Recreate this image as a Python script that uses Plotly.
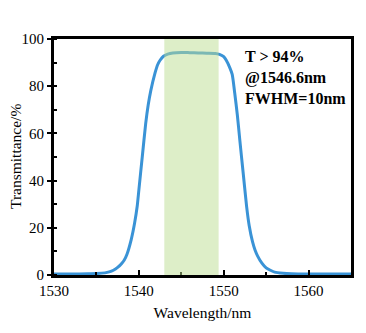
import plotly.graph_objects as go

wavelength = [1530, 1532, 1534, 1535, 1536, 1536.5, 1537, 1537.5, 1538, 1538.3, 1538.6,
              1539.1, 1539.5, 1539.8, 1540.0, 1540.4, 1540.8, 1541.1, 1541.4, 1541.9,
              1542.2, 1542.5, 1542.9, 1543.4, 1544, 1545, 1546, 1547, 1548, 1549,
              1549.5, 1550, 1550.3, 1550.7, 1551, 1551.3, 1551.6, 1551.9, 1552.3,
              1552.7, 1553.0, 1553.4, 1553.7, 1554.0, 1554.5, 1555, 1555.5, 1556,
              1557, 1558, 1560, 1562, 1565]
transmittance = [0.4, 0.4, 0.5, 0.6, 0.9, 1.3, 2.0, 3.2, 5.0, 6.5, 8.8,
                 15, 22, 29, 36, 50, 64, 72, 78, 85.5,
                 89, 91, 92.7, 93.6, 94.1, 94.3, 94.2, 94.1, 94.0, 93.9,
                 93.5, 92.5, 91, 88, 85, 77, 68, 57, 43,
                 29, 21, 14, 10.5, 8, 5, 3, 2, 1.2,
                 0.7, 0.5, 0.4, 0.4, 0.4]
band = [1543.0, 1549.4]
notes = ["T > 94%", "@1546.6nm", "FWHM=10nm"]
y_title = "Transmittance/%"
x_title = "Wavelength/nm"

font = "Liberation Serif"

fig = go.Figure()
fig.add_trace(go.Scatter(x=wavelength, y=transmittance, mode="lines",
                         line=dict(color="#3a93d6", width=3, shape="spline", smoothing=0.6),
                         showlegend=False))

fig.add_shape(type="rect", xref="x", yref="y", x0=band[0], x1=band[1], y0=0, y1=100,
              fillcolor="rgb(187,221,145)", opacity=0.5, line=dict(width=0), layer="above")

fig.add_annotation(x=0.635, y=0.97, xref="paper", yref="paper", xanchor="left", yanchor="top",
                   text="<br>".join("<b>%s</b>" % t for t in notes), showarrow=False, align="left",
                   font=dict(family=font, size=16, color="black"))

# y-axis title as rotated text centred on the plot height
fig.add_annotation(x=0, y=0.5, xref="paper", yref="paper", xshift=-39, showarrow=False,
                   text=y_title, textangle=-90, xanchor="center", yanchor="middle",
                   font=dict(family=font, size=15.5, color="black"))

fig.update_layout(
    width=366, height=333,
    margin=dict(l=54, r=15, t=39, b=58, autoexpand=False),
    paper_bgcolor="white", plot_bgcolor="white",
    font=dict(family=font, size=15, color="black"),
    xaxis=dict(range=[1530, 1565], dtick=10, tick0=1530, showgrid=False, zeroline=False,
               automargin=False,
               showline=True, linecolor="black", linewidth=3, mirror=True,
               ticks="inside", ticklen=5, tickwidth=2, tickcolor="black",
               minor=dict(ticks="inside", ticklen=3, tickwidth=2, dtick=5, tickcolor="black"),
               title=dict(text=x_title, font=dict(family=font, size=15.5, color="black"),
                          standoff=10),
               tickfont=dict(family=font, size=15, color="black")),
    yaxis=dict(range=[0, 100], dtick=20, showgrid=False, zeroline=False,
               automargin=False,
               showline=True, linecolor="black", linewidth=3, mirror=True,
               ticks="outside", ticklen=4, tickwidth=2, tickcolor="black",
               minor=dict(ticks="inside", ticklen=3, tickwidth=2, dtick=10, tickcolor="black"),
               tickfont=dict(family=font, size=15, color="black")),
)

fig.write_html("out.html")
